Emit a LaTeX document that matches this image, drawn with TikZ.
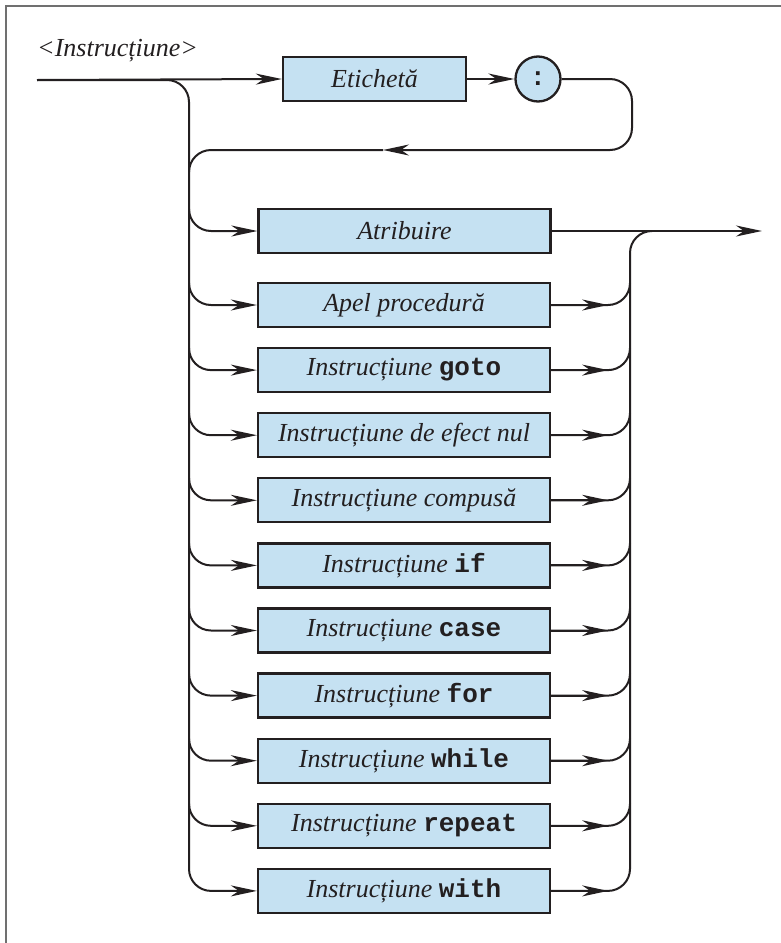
\documentclass[tikz,border=0pt]{standalone}
\usepackage{fontspec}
\setmainfont{Liberation Serif}
\setmonofont{Liberation Mono}
\usetikzlibrary{arrows.meta,calc}
\definecolor{boxblue}{HTML}{C5E1F2}
\definecolor{ink}{HTML}{231F20}
\definecolor{framegray}{HTML}{707070}
\newcommand\kwd[1]{{\upshape\ttfamily\bfseries #1}}

\begin{document}
\begin{tikzpicture}[x=1pt,y=-1pt,
  every node/.style={font=\fontsize{26}{30}\selectfont\itshape, text=ink},
  syn/.style={draw=ink, line width=2.3pt, fill=boxblue, minimum height=44pt, inner sep=0pt},
  wide/.style={syn, minimum width=292pt},
  conn/.style={color=ink, line width=2pt, rounded corners=22pt},
  arr/.style={conn, -{Stealth[length=26pt,width=11pt,inset=8pt]}}
]
\useasboundingbox (0,0) rectangle (781,943);

% partial frame
\draw[framegray, line width=2pt] (6,943) -- (6,6) -- (781,6);

% heading
\node[anchor=base west, inner sep=0pt] (title) at (37,56) {<Instrucțiune>};

% label part
\coordinate (start) at (37,80);
\node[syn, minimum width=183pt] (etic) at (374.5,79) {Etichetă};
\node[syn, circle, minimum size=45pt] (colon) at (538,79) {\kwd{:}};

% alternatives
\node[wide] (b1)  at (404.5,231) {Atribuire};
\node[wide] (b2)  at (404,305)   {Apel procedură};
\node[wide] (b3)  at (404,370.1) {Instrucțiune \kwd{goto}};
\node[wide] (b4)  at (404,435.2) {Instrucțiune de efect nul};
\node[wide] (b5)  at (404,500.3) {Instrucțiune compusă};
\node[wide] (b6)  at (404,565.4) {Instrucțiune \kwd{if}};
\node[wide] (b7)  at (404,630.5) {Instrucțiune \kwd{case}};
\node[wide] (b8)  at (404,695.6) {Instrucțiune \kwd{for}};
\node[wide] (b9)  at (404,760.7) {Instrucțiune \kwd{while}};
\node[wide] (b10) at (404,825.8) {Instrucțiune \kwd{repeat}};
\node[wide] (b11) at (404,890.9) {Instrucțiune \kwd{with}};

% bus lines
\coordinate (busL) at (189,0);
\coordinate (busR) at (630,0);
\coordinate (loopR) at (632,0);
\coordinate (back) at (383,150);
\coordinate (exit) at (762,231);

% label path and its return loop
\draw[arr] (start) -- (etic.west);
\draw[arr] (etic.east) -- (colon.west);
\draw[arr] (colon.east) -- (loopR |- colon.east) -- (loopR |- back) -- (back);
\draw[conn] (back) -- (busL |- back) -- ($(busL |- back)+(0,22)$);

% left bus with the last branch
\draw[arr] (start) -- (busL |- start) -- (busL |- b11.west) -- (b11.west);

% left branches
\foreach \b in {b1,b2,b3,b4,b5,b6,b7,b8,b9,b10}
  \draw[arr] ($(busL |- \b.west)+(0,-22)$) -- (busL |- \b.west) -- (\b.west);

% right bus and exit
\draw[arr] (b1.east) -- (exit);
\draw[conn] (b11.east) -- (busR |- b11.east) -- (busR |- b1.east) -- ($(busR |- b1.east)+(22,0)$);
\foreach \b in {b2,b3,b4,b5,b6,b7,b8,b9,b10}
  \draw[conn] (\b.east) -- (busR |- \b.east) -- ($(busR |- \b.east)+(0,-22)$);
\foreach \b in {b2,b3,b4,b5,b6,b7,b8,b9,b10,b11}
  \draw[arr] (\b.east) -- ($(\b.east)+(57,0)$);
\end{tikzpicture}
\end{document}
